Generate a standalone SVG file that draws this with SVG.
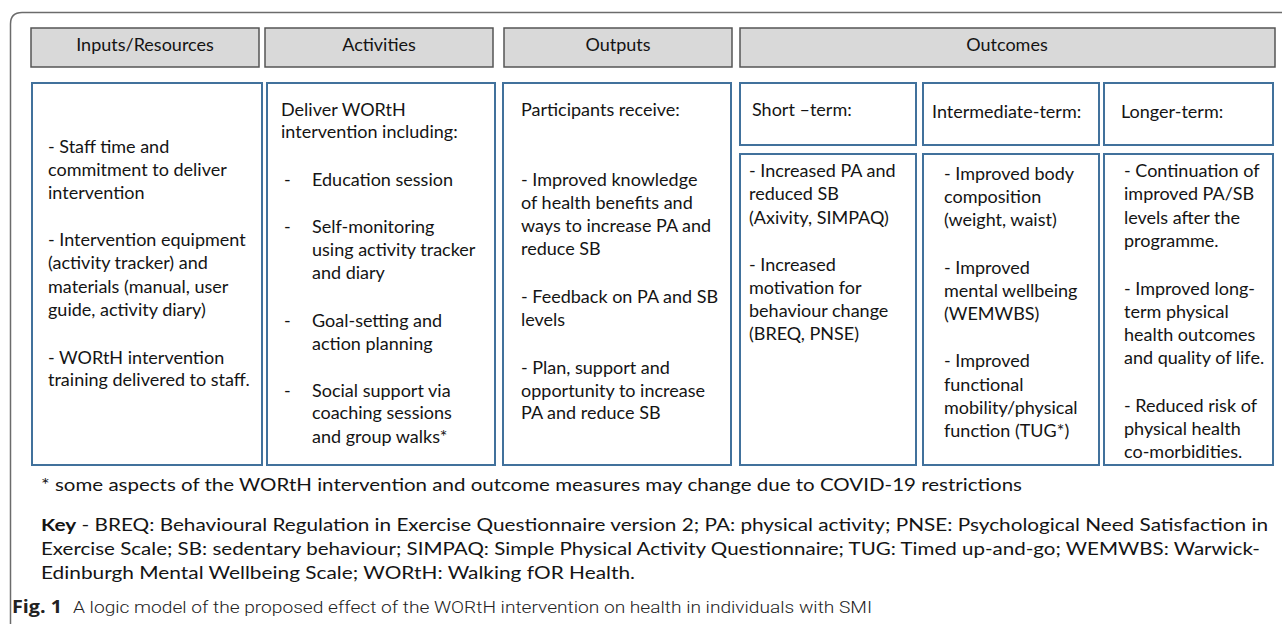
<svg xmlns="http://www.w3.org/2000/svg" width="1282" height="624" viewBox="0 0 1282 624">
  <style>
    .frame { fill: none; stroke: #6b6b6b; stroke-width: 1.5; }
    .head rect { fill: #d9d9d9; stroke: #555555; stroke-width: 1.5; }
    .box rect { fill: #ffffff; stroke: #41719c; stroke-width: 2; }
    text { font-family: Lato, "Open Sans", sans-serif; font-size: 18px; fill: #141414; }
    .c { text-anchor: middle; }
    .note { font-size: 17.5px; }
    .cap { font-family: Roboto, "Liberation Sans", sans-serif; font-size: 16px; font-weight: 300; fill: #222; }
    .capb { font-family: "Open Sans", sans-serif; font-size: 18px; font-weight: 700; fill: #222; }
  </style>

  <rect width="1282" height="624" fill="#ffffff"/>

  <!-- outer rounded frame, open on right and bottom -->
  <path class="frame" d="M10.5 624 V24 Q10.5 12.5 22 12.5 H1282"/>

  <!-- column headers -->
  <g id="head-inputs" class="head">
    <rect x="31" y="28" width="228" height="39"/>
    <text class="c" x="145" y="51">Inputs/Resources</text>
  </g>
  <g id="head-activities" class="head">
    <rect x="265" y="28" width="228" height="39"/>
    <text class="c" x="379" y="51">Activities</text>
  </g>
  <g id="head-outputs" class="head">
    <rect x="504" y="28" width="228" height="39"/>
    <text class="c" x="618" y="51">Outputs</text>
  </g>
  <g id="head-outcomes" class="head">
    <rect x="740" y="28" width="535" height="39"/>
    <text class="c" x="1007" y="51">Outcomes</text>
  </g>

  <!-- Inputs/Resources -->
  <g id="inputs" class="box">
    <rect x="32" y="83" width="230" height="382"/>
    <text x="48" y="153">- Staff time and</text>
    <text x="48" y="176">commitment to deliver</text>
    <text x="48" y="199">intervention</text>
    <text x="48" y="246">- Intervention equipment</text>
    <text x="48" y="269">(activity tracker) and</text>
    <text x="48" y="293">materials (manual, user</text>
    <text x="48" y="316">guide, activity diary)</text>
    <text x="48" y="364">- WORtH intervention</text>
    <text x="48" y="386">training delivered to staff.</text>
  </g>

  <!-- Activities -->
  <g id="activities" class="box">
    <rect x="267" y="83" width="228" height="382"/>
    <text x="281" y="116">Deliver WORtH</text>
    <text x="281" y="138">intervention including:</text>
    <text x="284" y="186">-</text>
    <text x="312" y="186">Education session</text>
    <text x="284" y="233">-</text>
    <text x="312" y="233">Self-monitoring</text>
    <text x="312" y="256">using activity tracker</text>
    <text x="312" y="279">and diary</text>
    <text x="284" y="327">-</text>
    <text x="312" y="327">Goal-setting and</text>
    <text x="312" y="350">action planning</text>
    <text x="284" y="397">-</text>
    <text x="312" y="397">Social support via</text>
    <text x="312" y="419">coaching sessions</text>
    <text x="312" y="443">and group walks*</text>
  </g>

  <!-- Outputs -->
  <g id="outputs" class="box">
    <rect x="503" y="83" width="228" height="382"/>
    <text x="521" y="116">Participants receive:</text>
    <text x="521" y="186">- Improved knowledge</text>
    <text x="521" y="209">of health benefits and</text>
    <text x="521" y="232">ways to increase PA and</text>
    <text x="521" y="255">reduce SB</text>
    <text x="521" y="303">- Feedback on PA and SB</text>
    <text x="521" y="326">levels</text>
    <text x="521" y="374">- Plan, support and</text>
    <text x="521" y="397">opportunity to increase</text>
    <text x="521" y="419">PA and reduce SB</text>
  </g>

  <!-- Outcomes: short term -->
  <g id="short-head" class="box">
    <rect x="740" y="83" width="176" height="62"/>
    <text x="752" y="116">Short –term:</text>
  </g>
  <g id="short" class="box">
    <rect x="740" y="154" width="176" height="311"/>
    <text x="749" y="177">- Increased PA and</text>
    <text x="749" y="200">reduced SB</text>
    <text x="749" y="224">(Axivity, SIMPAQ)</text>
    <text x="749" y="271">- Increased</text>
    <text x="749" y="294">motivation for</text>
    <text x="749" y="317">behaviour change</text>
    <text x="749" y="340">(BREQ, PNSE)</text>
  </g>

  <!-- Outcomes: intermediate term -->
  <g id="intermediate-head" class="box">
    <rect x="923" y="83" width="176" height="62"/>
    <text x="932" y="118">Intermediate-term:</text>
  </g>
  <g id="intermediate" class="box">
    <rect x="923" y="154" width="176" height="311"/>
    <text x="944" y="180">- Improved body</text>
    <text x="944" y="203">composition</text>
    <text x="944" y="226">(weight, waist)</text>
    <text x="944" y="274">- Improved</text>
    <text x="944" y="297">mental wellbeing</text>
    <text x="944" y="320">(WEMWBS)</text>
    <text x="944" y="367">- Improved</text>
    <text x="944" y="391">functional</text>
    <text x="944" y="414">mobility/physical</text>
    <text x="944" y="437">function (TUG*)</text>
  </g>

  <!-- Outcomes: longer term -->
  <g id="longer-head" class="box">
    <rect x="1104" y="83" width="169" height="62"/>
    <text x="1121" y="118">Longer-term:</text>
  </g>
  <g id="longer" class="box">
    <rect x="1104" y="154" width="169" height="311"/>
    <text x="1124" y="177">- Continuation of</text>
    <text x="1124" y="200">improved PA/SB</text>
    <text x="1124" y="224">levels after the</text>
    <text x="1124" y="247">programme.</text>
    <text x="1124" y="295">- Improved long-</text>
    <text x="1124" y="318">term physical</text>
    <text x="1124" y="341">health outcomes</text>
    <text x="1124" y="364">and quality of life.</text>
    <text x="1124" y="412">- Reduced risk of</text>
    <text x="1124" y="435">physical health</text>
    <text x="1124" y="458">co-morbidities.</text>
  </g>

  <!-- footnote and key -->
  <g id="notes">
    <text class="note" x="41" y="491" textLength="981" lengthAdjust="spacingAndGlyphs">* some aspects of the WORtH intervention and outcome measures may change due to COVID-19 restrictions</text>
    <text class="note" x="41" y="531" textLength="1227" lengthAdjust="spacingAndGlyphs"><tspan font-weight="700">Key</tspan> - BREQ: Behavioural Regulation in Exercise Questionnaire version 2; PA: physical activity; PNSE: Psychological Need Satisfaction in</text>
    <text class="note" x="41" y="555" textLength="1219" lengthAdjust="spacingAndGlyphs">Exercise Scale; SB: sedentary behaviour; SIMPAQ: Simple Physical Activity Questionnaire; TUG: Timed up-and-go; WEMWBS: Warwick-</text>
    <text class="note" x="41" y="579" textLength="594" lengthAdjust="spacingAndGlyphs">Edinburgh Mental Wellbeing Scale; WORtH: Walking fOR Health.</text>
  </g>

  <!-- figure caption -->
  <g id="caption">
    <text class="capb" x="12" y="613" textLength="50" lengthAdjust="spacingAndGlyphs">Fig. 1</text>
    <text class="cap" x="73" y="613" textLength="799" lengthAdjust="spacingAndGlyphs">A logic model of the proposed effect of the WORtH intervention on health in individuals with SMI</text>
  </g>
</svg>
